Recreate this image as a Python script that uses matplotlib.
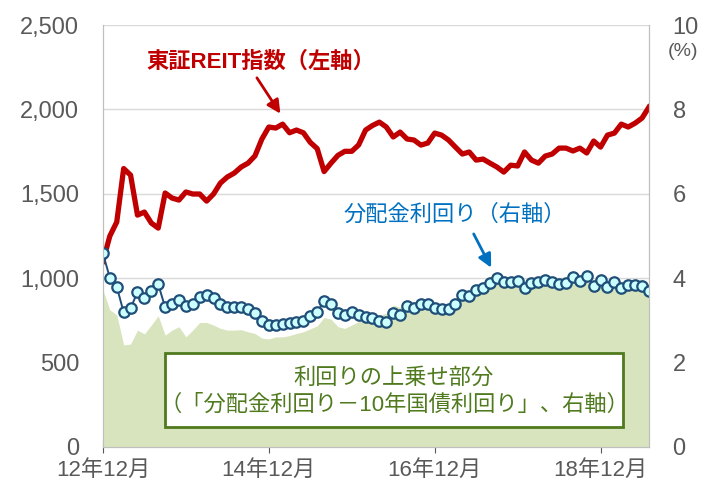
import matplotlib
matplotlib.use("Agg")
import matplotlib.pyplot as plt
from matplotlib.patches import Rectangle

plt.rcParams["font.family"] = ["Liberation Sans", "Noto Sans CJK JP", "DejaVu Sans"]

# monthly data, Dec 2012 .. Jul 2019
reit_index = [1100, 1250, 1333, 1650, 1611, 1374, 1392, 1327, 1297, 1505,
              1475, 1463, 1511, 1499, 1499, 1457, 1499, 1564, 1600, 1623,
              1659, 1682, 1725, 1825, 1896, 1890, 1913, 1862, 1878, 1862,
              1805, 1768, 1632, 1682, 1728, 1752, 1752, 1790, 1878, 1905,
              1925, 1896, 1837, 1866, 1825, 1819, 1789, 1801, 1860, 1848,
              1819, 1777, 1736, 1748, 1700, 1706, 1682, 1659, 1629, 1670,
              1665, 1748, 1700, 1682, 1724, 1736, 1771, 1771, 1754, 1771,
              1742, 1813, 1777, 1848, 1860, 1913, 1896, 1919, 1949, 2014]

div_yield = [4.59, 4.01, 3.80, 3.19, 3.29, 3.67, 3.52, 3.70, 3.86, 3.31,
             3.38, 3.48, 3.34, 3.40, 3.55, 3.60, 3.52, 3.38, 3.32, 3.31,
             3.31, 3.26, 3.17, 2.98, 2.88, 2.90, 2.91, 2.95, 2.97, 2.99,
             3.10, 3.19, 3.47, 3.40, 3.17, 3.13, 3.19, 3.13, 3.09, 3.05,
             2.99, 2.97, 3.17, 3.12, 3.34, 3.30, 3.39, 3.38, 3.29, 3.27,
             3.28, 3.38, 3.60, 3.58, 3.73, 3.77, 3.89, 4.01, 3.90, 3.90,
             3.94, 3.76, 3.89, 3.90, 3.96, 3.92, 3.86, 3.89, 4.02, 3.94,
             4.05, 3.82, 3.96, 3.80, 3.90, 3.76, 3.85, 3.85, 3.82, 3.70]

# yield spread over 10y JGB
spread = [3.72, 3.25, 3.13, 2.42, 2.44, 2.77, 2.68, 2.89, 3.11, 2.65,
          2.77, 2.85, 2.61, 2.77, 2.95, 2.95, 2.89, 2.81, 2.77, 2.77,
          2.78, 2.73, 2.69, 2.58, 2.56, 2.61, 2.61, 2.64, 2.69, 2.73,
          2.80, 2.87, 3.07, 3.03, 2.85, 2.81, 2.89, 2.97, 3.01, 3.05,
          3.13, 3.17, 3.36, 3.31, 3.36, 3.33, 3.39, 3.39, 3.31, 3.29,
          3.29, 3.41, 3.56, 3.56, 3.68, 3.70, 3.86, 3.96, 3.83, 3.86,
          3.89, 3.68, 3.84, 3.85, 3.91, 3.88, 3.82, 3.83, 3.92, 3.83,
          3.93, 3.73, 3.95, 3.80, 3.93, 3.85, 3.90, 3.94, 3.98, 3.85]

tick_pos = [0, 24, 48, 72]
tick_labels = ["12年12月", "14年12月", "16年12月", "18年12月"]
minor_pos = [12, 36, 60]

months = list(range(len(reit_index)))
gray = "#595959"
axis_gray = "#bfbfbf"

fig = plt.figure(figsize=(7.05, 4.9), dpi=100)
ax = fig.add_axes([0.146, 0.0878, 0.7745, 0.861])
ax2 = ax.twinx()

ax.set_xlim(0, len(months) - 1)
ax.set_ylim(0, 2500)
ax.set_yticks(range(0, 2501, 500))
ax.set_yticklabels([f"{v:,}" for v in range(0, 2501, 500)])
ax.grid(axis="y", color="#d9d9d9", lw=1)
ax.set_axisbelow(True)

ax2.set_ylim(0, 10)
ax2.set_yticks(range(0, 11, 2))

ax.set_xticks(tick_pos)
ax.set_xticklabels(tick_labels)
ax.set_xticks(minor_pos, minor=True)

ax.tick_params(axis="x", which="major", direction="inout", length=8,
               color=gray, labelsize=16, labelcolor=gray, pad=5)
ax.tick_params(axis="x", which="minor", direction="in", length=4, color=gray)
ax.tick_params(axis="y", length=0, labelsize=17, labelcolor=gray, pad=17)
ax2.tick_params(axis="y", length=0, labelsize=17, labelcolor=gray, pad=17)

for a in (ax, ax2):
    a.spines["top"].set_visible(False)
    a.spines["left"].set_color(axis_gray)
    a.spines["right"].set_color(axis_gray)
    a.spines["bottom"].set_color(axis_gray)

ax.plot(months, reit_index, color="#c00000", lw=3.8, solid_joinstyle="round")
ax2.fill_between(months, 0, spread, color="#d7e4bd", lw=0)
ax2.plot(months, div_yield, color="#1f4e79", lw=1.4, marker="o", ms=7.5,
         mfc="#ccffff", mec="#1f4e79", mew=1.6)

fig.text(683 / 705, 1 - 52 / 490, "(%)", ha="center", va="center",
         fontsize=14, color=gray)

ax.text(0.289, 0.912, "東証REIT指数（左軸）", transform=ax.transAxes,
        ha="center", va="center", fontsize=16, fontweight="bold", color="#c00000")
ax.annotate("", xy=(0.325, 0.79), xytext=(0.282, 0.875), xycoords="axes fraction",
            arrowprops=dict(arrowstyle="-|>", color="#c00000", lw=2, mutation_scale=20,
                            shrinkA=0, shrinkB=0))

ax.text(0.645, 0.55, "分配金利回り（右軸）", transform=ax.transAxes,
        ha="center", va="center", fontsize=16, color="#0070c0")
ax.annotate("", xy=(0.711, 0.425), xytext=(0.679, 0.505), xycoords="axes fraction",
            arrowprops=dict(arrowstyle="-|>", color="#0070c0", lw=2, mutation_scale=20,
                            shrinkA=0, shrinkB=0))

box = Rectangle((0.113, 0.048), 0.840, 0.174, transform=ax2.transAxes,
                facecolor="white", edgecolor="#4f7a1e", lw=2, zorder=5)
ax2.add_patch(box)
ax2.text(0.533, 0.1635, "利回りの上乗せ部分", transform=ax2.transAxes,
         ha="center", va="center", fontsize=16, color="#4f7a1e", zorder=6)
ax2.text(0.533, 0.0995, "（「分配金利回り－10年国債利回り」、右軸）", transform=ax2.transAxes,
         ha="center", va="center", fontsize=16, color="#4f7a1e", zorder=6)

fig.savefig("out.png", dpi=100)
